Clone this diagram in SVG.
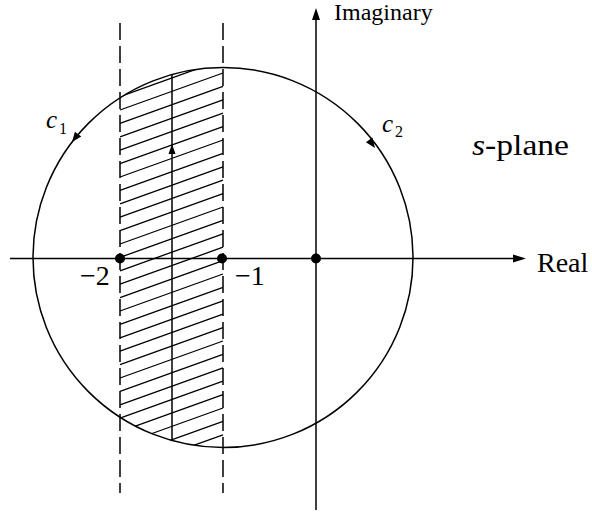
<svg xmlns="http://www.w3.org/2000/svg" width="592" height="513" viewBox="0 0 592 513">
<style>
.ln{stroke:#000;fill:none;stroke-width:1.5}
.hatch{stroke:#000;fill:none;stroke-width:1.3}
.dash{stroke:#000;fill:none;stroke-width:1.5;stroke-dasharray:17 6}
.i{font-style:italic}
</style>
<defs>
<clipPath id="cc"><circle cx="223" cy="257.5" r="190"/></clipPath>
</defs>
<rect width="592" height="513" fill="#fff"/>
<g id="hatch" clip-path="url(#cc)">
<path class="hatch" d="M120,69.8L223,32.8M120,83.2L223,46.2M120,96.6L223,59.6M120,110L223,73M120,123.4L223,86.4M120,136.8L223,99.8M120,150.2L223,113.2M120,163.6L223,126.6M120,177L223,140M120,190.4L223,153.4M120,203.8L223,166.8M120,217.2L223,180.2M120,230.6L223,193.6M120,244L223,207M120,257.4L223,220.4M120,270.8L223,233.8M120,284.2L223,247.2M120,297.6L223,260.6M120,311L223,274M120,324.4L223,287.4M120,337.8L223,300.8M120,351.2L223,314.2M120,364.6L223,327.6M120,378L223,341M120,391.4L223,354.4M120,404.8L223,367.8M120,418.2L223,381.2M120,431.6L223,394.6M120,445L223,408M120,458.4L223,421.4M120,471.8L223,434.8M120,485.2L223,448.2"/>
</g>
<g id="circle">
<circle class="ln" cx="223" cy="257.5" r="190"/>
<polygon points="0,0 -10,-4 -10,4" transform="translate(72,142) rotate(127.4)" fill="#000"/>
<polygon points="0,0 -10,-4 -10,4" transform="translate(375,148) rotate(54.2)" fill="#000"/>
</g>
<g id="strip">
<line class="dash" x1="120" y1="23" x2="120" y2="493"/>
<line class="dash" x1="223" y1="23" x2="223" y2="493"/>
</g>
<g id="connectors">
<line class="ln" x1="10" y1="258.5" x2="515" y2="258.5"/>
<polygon points="526,258.5 513,254.5 513,262.5" fill="#000"/>
<line class="ln" x1="316" y1="510" x2="316" y2="18"/>
<polygon points="316,8 312,20 320,20" fill="#000"/>
<line class="ln" x1="172" y1="440.5" x2="172" y2="74.5"/>
<polygon points="172,144 168.5,154 175.5,154" fill="#000"/>
</g>
<g id="points">
<circle cx="120" cy="258.5" r="5"/>
<circle cx="222" cy="258.5" r="5"/>
<circle cx="316" cy="258.5" r="5"/>
</g>
<g id="labels" font-family="Liberation Serif" fill="#000">
<text x="334" y="20" font-size="24">Imaginary</text>
<text x="537" y="272" font-size="28">Real</text>
<text x="472" y="155" font-size="29" textLength="97" lengthAdjust="spacingAndGlyphs"><tspan class="i">s</tspan>-plane</text>
<text x="80" y="285" font-size="28">−2</text>
<text x="235" y="285" font-size="28">−1</text>
<text class="i" x="46" y="128" font-size="25">c</text>
<text x="59" y="134" font-size="16">1</text>
<text class="i" x="382" y="132" font-size="25">c</text>
<text x="395" y="137" font-size="16">2</text>
</g>
</svg>
